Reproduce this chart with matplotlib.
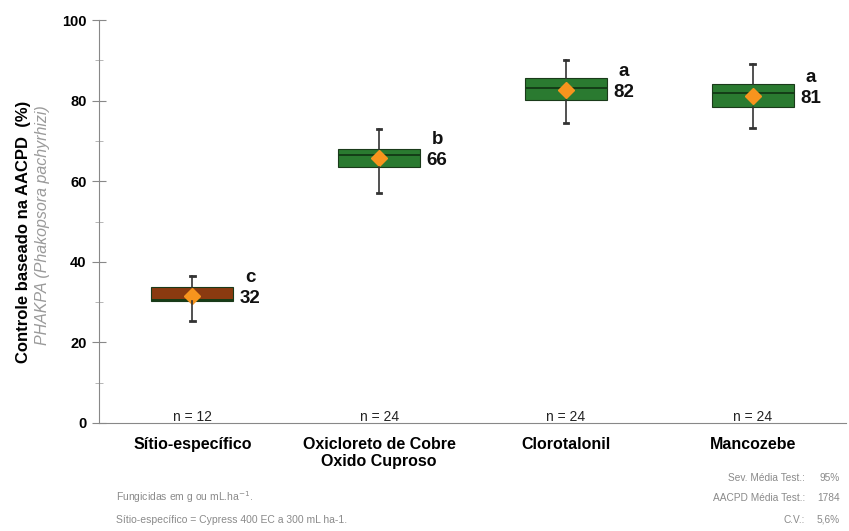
import matplotlib.pyplot as plt

# ===== DATA =====
categories = ["Sítio-específico", "Oxicloreto de Cobre\nOxido Cuproso", "Clorotalonil", "Mancozebe"]
whis_low = [25.3, 57.0, 74.4, 73.2]
q1 = [30.3, 63.5, 80.1, 78.4]
medians = [30.6, 66.6, 83.1, 81.9]
q3 = [33.7, 68.0, 85.6, 84.1]
whis_high = [36.5, 73.0, 90.0, 89.0]
means = [31.6, 65.8, 82.6, 81.1]
mean_labels = ["32", "66", "82", "81"]
letters = ["c", "b", "a", "a"]
n_labels = ["n = 12", "n = 24", "n = 24", "n = 24"]
box_colors = ["#8a3a10", "#2a7a30", "#2a7a30", "#2a7a30"]

plt.rcParams["font.family"] = ["Liberation Sans", "DejaVu Sans"]

fig = plt.figure(figsize=(8.49, 5.31), dpi=100)
ax = fig.add_axes([99 / 849, 1 - 423 / 531, 747 / 849, 403 / 531])

stats = []
for i in range(len(categories)):
    stats.append({"whislo": whis_low[i], "q1": q1[i], "med": medians[i],
                  "q3": q3[i], "whishi": whis_high[i], "mean": means[i]})

pos = list(range(len(categories)))
bp = ax.bxp(stats, positions=pos, widths=0.44, patch_artist=True, showmeans=True,
            showfliers=False,
            boxprops=dict(edgecolor="#1a3a1a", linewidth=0.8),
            medianprops=dict(color="#143d17", linewidth=1.4),
            whiskerprops=dict(color="#333333", linewidth=1.2),
            capprops=dict(color="#333333", linewidth=2.0),
            meanprops=dict(marker="D", markerfacecolor="#f7941d", markeredgecolor="#f7941d",
                           markersize=8))
for patch, c in zip(bp["boxes"], box_colors):
    patch.set_facecolor(c)
for cap in bp["caps"]:
    mid = cap.get_xdata().mean()
    cap.set_xdata([mid - 0.012, mid + 0.012])
for w in bp["whiskers"]:
    w.set_zorder(3)

for i in pos:
    ax.text(i + 0.31, means[i] - 0.6, mean_labels[i], fontsize=13.5, fontweight="bold",
            ha="center", va="center", color="#111111")
    ax.text(i + 0.31, means[i] + 4.6, letters[i], fontsize=13.5, fontweight="bold",
            ha="center", va="center", color="#111111")
    ax.text(i, 1.6, n_labels[i], fontsize=10, ha="center", va="center", color="#222222")

ax.set_xlim(-0.5, len(categories) - 0.5)
ax.set_ylim(0, 100)
ax.set_yticks([0, 20, 40, 60, 80, 100])
ax.set_yticks([10, 30, 50, 70, 90], minor=True)
ax.set_yticklabels(["0", "20", "40", "60", "80", "100"], fontsize=10.5, fontweight="bold")
ax.tick_params(axis="y", which="major", direction="inout", length=10, color="#888888", pad=4)
ax.tick_params(axis="y", which="minor", direction="inout", length=6, color="#aaaaaa")
ax.set_xticks(pos)
ax.set_xticklabels(categories, fontsize=11.5, fontweight="bold", va="top")
ax.tick_params(axis="x", length=0, pad=10)

for s in ["top", "right"]:
    ax.spines[s].set_visible(False)
ax.spines["left"].set_color("#888888")
ax.spines["bottom"].set_color("#888888")

fig.text(24 / 849, 1 - 232 / 531, "Controle baseado na AACPD  (%)", rotation=90,
         fontsize=12, fontweight="bold", ha="center", va="center")
fig.text(43 / 849, 1 - 225 / 531, "PHAKPA (Phakopsora pachyrhizi)", rotation=90,
         fontsize=11.5, style="italic", color="#9a9a9a", ha="center", va="center")

fig.text(116 / 849, 1 - 497 / 531, "Fungicidas em g ou mL.ha$^{-1}$.", fontsize=7.5,
         color="#8a8a8a", ha="left", va="center")
fig.text(116 / 849, 1 - 520 / 531, "Sítio-específico = Cypress 400 EC a 300 mL ha-1.",
         fontsize=7.5, color="#8a8a8a", ha="left", va="center")

info_labels = ["Sev. Média Test.:", "AACPD Média Test.:", "C.V.:"]
info_values = ["95%", "1784", "5,6%"]
info_y = [478, 498, 520]
for lab, val, yy in zip(info_labels, info_values, info_y):
    fig.text(805 / 849, 1 - yy / 531, lab, fontsize=7.3, color="#8a8a8a", ha="right", va="center")
    fig.text(840 / 849, 1 - yy / 531, val, fontsize=7.3, color="#8a8a8a", ha="right", va="center")

fig.savefig("out.png", dpi=100)
